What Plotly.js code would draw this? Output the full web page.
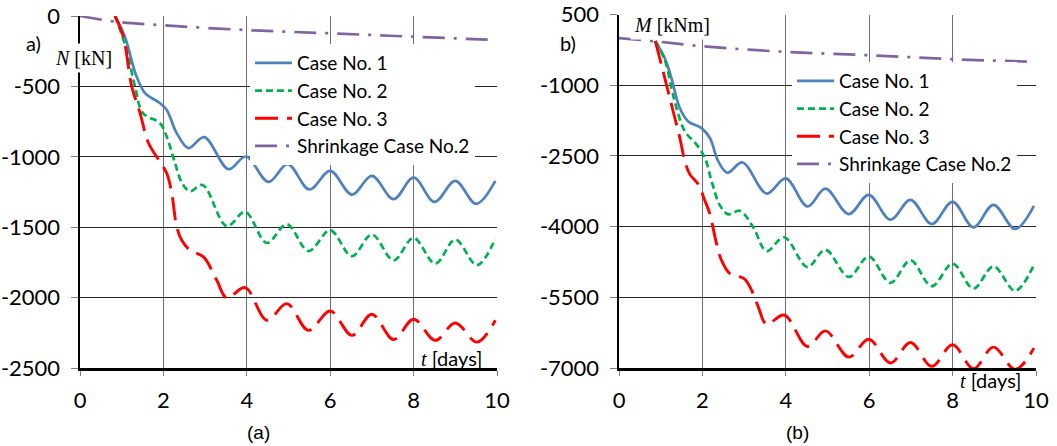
<!DOCTYPE html>
<html>
<head>
<meta charset="utf-8">
<script src="https://cdn.plot.ly/plotly-3.0.1.min.js"></script>
<style>
  html, body { margin: 0; padding: 0; background: #fff; }
  #chart { width: 1057px; height: 446px; }
</style>
</head>
<body>
<div id="chart"></div>
<script>
// ---- (a) axial force N [kN] versus time t [days] ----
const tN_case1 = [0.84, 1.08, 1.28, 1.36, 1.56, 1.92, 2.08, 2.32, 2.6, 2.98, 3.56, 3.98, 4.52, 4.98, 5.5, 6.0, 6.52, 7.0, 7.52, 8.0, 8.5, 9.0, 9.5, 9.96];
const N_case1  = [0, -150, -360, -431, -548, -620, -668, -832, -938, -860, -1088, -998, -1178, -1052, -1232, -1100, -1268, -1136, -1301, -1147, -1320, -1171, -1334, -1171];

const tN_case2 = [0.84, 1.12, 1.32, 1.51, 1.92, 2.08, 2.28, 2.45, 2.64, 2.94, 3.52, 3.96, 4.48, 4.96, 5.48, 6.0, 6.52, 7.0, 7.52, 8.0, 8.52, 9.0, 9.52, 9.96];
const N_case2  = [0, -242, -502, -690, -762, -858, -1046, -1188, -1245, -1200, -1493, -1391, -1612, -1479, -1669, -1522, -1706, -1552, -1735, -1576, -1759, -1588, -1770, -1581];

const tN_case3 = [0.84, 1.04, 1.24, 1.44, 1.64, 1.92, 2.08, 2.2, 2.32, 2.44, 2.64, 2.96, 3.28, 3.52, 3.96, 4.48, 4.96, 5.48, 6.0, 6.52, 7.0, 7.52, 8.0, 8.52, 9.0, 9.52, 9.96];
const N_case3  = [0, -150, -500, -690, -900, -1037, -1117, -1258, -1498, -1593, -1664, -1711, -1877, -2003, -1929, -2161, -2043, -2233, -2095, -2268, -2118, -2298, -2154, -2304, -2180, -2316, -2161];

const tN_shrink = [0, 0.84, 2, 4, 6, 8, 10];
const N_shrink  = [0, -40, -66, -100, -123, -147, -171];

// ---- (b) bending moment M [kNm] versus time t [days] ----
const tM_case1 = [0.87, 1.1, 1.26, 1.34, 1.46, 1.66, 1.98, 2.18, 2.38, 2.6, 2.96, 3.54, 4.0, 4.52, 4.95, 5.51, 5.99, 6.51, 6.99, 7.5, 8.0, 8.5, 8.98, 9.5, 9.95];
const M_case1  = [-62, -435, -857, -1137, -1489, -1769, -1910, -2121, -2612, -2858, -2640, -3299, -2976, -3573, -3194, -3734, -3327, -3854, -3432, -3945, -3474, -4015, -3538, -4050, -3559];

const tM_case2 = [0.87, 1.1, 1.26, 1.38, 1.58, 1.86, 2.06, 2.22, 2.42, 2.62, 2.9, 3.22, 3.54, 3.96, 4.52, 4.95, 5.51, 5.99, 6.51, 6.99, 7.5, 8.0, 8.5, 8.98, 9.5, 9.95];
const M_case2  = [-62, -469, -1067, -1489, -1980, -2260, -2542, -3033, -3550, -3740, -3665, -4017, -4521, -4226, -4858, -4493, -5068, -4633, -5195, -4717, -5265, -4788, -5314, -4844, -5363, -4809];

const tM_case3 = [0.87, 1.02, 1.18, 1.3, 1.46, 1.58, 1.7, 1.9, 2.06, 2.18, 2.34, 2.46, 2.66, 3.0, 3.18, 3.34, 3.54, 3.96, 4.52, 4.95, 5.51, 5.99, 6.51, 6.99, 7.5, 8.0, 8.5, 8.98, 9.5, 9.95];
const M_case3  = [-62, -575, -1137, -1558, -2121, -2612, -2892, -3103, -3450, -3735, -4367, -4719, -4999, -5105, -5351, -5703, -6070, -5876, -6543, -6213, -6768, -6389, -6894, -6459, -6964, -6508, -7015, -6557, -7030, -6578];

const tM_shrink = [0, 0.87, 2, 4, 6, 8, 10];
const M_shrink  = [0, -70, -174, -293, -364, -448, -504];

const seriesNames = ['Case No. 1', 'Case No. 2', 'Case No. 3', 'Shrinkage Case No.2'];
const xTicks = [0, 2, 4, 6, 8, 10];
const nTicks = [0, -500, -1000, -1500, -2000, -2500];
const mTicks = [500, -1000, -2500, -4000, -5500, -7000];

// ---- styling ----
const styles = [
  { color: '#4F81BD', width: 2.7, dash: 'solid' },
  { color: '#00B050', width: 2.7, dash: '7px,4px' },
  { color: '#FF0000', width: 2.9, dash: '23px,9px' },
  { color: '#8064A2', width: 2.7, dash: '22px,9px,3px,9px' }
];
const W = 1057, H = 446;
const px = v => v / W;
const py = v => 1 - v / H;
const SANS = 'Lato, "Open Sans", sans-serif';
const SERIF = '"Liberation Serif", "DejaVu Serif", serif';

function makeTrace(x, y, i, xa, ya, leg) {
  return {
    x: x, y: y, type: 'scatter', mode: 'lines',
    name: seriesNames[i], xaxis: xa, yaxis: ya, legend: leg,
    line: { color: styles[i].color, width: styles[i].width, dash: styles[i].dash, shape: 'spline', smoothing: 1 },
    hoverinfo: 'x+y'
  };
}

const traces = [
  makeTrace(tN_case1, N_case1, 0, 'x', 'y', 'legend'),
  makeTrace(tN_case2, N_case2, 1, 'x', 'y', 'legend'),
  makeTrace(tN_case3, N_case3, 2, 'x', 'y', 'legend'),
  makeTrace(tN_shrink, N_shrink, 3, 'x', 'y', 'legend'),
  makeTrace(tM_case1, M_case1, 0, 'x2', 'y2', 'legend2'),
  makeTrace(tM_case2, M_case2, 1, 'x2', 'y2', 'legend2'),
  makeTrace(tM_case3, M_case3, 2, 'x2', 'y2', 'legend2'),
  makeTrace(tM_shrink, M_shrink, 3, 'x2', 'y2', 'legend2')
];

function xAxis(domain, anchor) {
  return {
    domain: domain, anchor: anchor, range: [0, 10],
    tickvals: xTicks, ticktext: xTicks.map(String),
    showgrid: true, gridcolor: '#6f6f6f', gridwidth: 1,
    zeroline: false, showline: true, linecolor: '#000', linewidth: 2.5,
    ticks: 'outside', ticklen: 5, tickcolor: '#808080', tickwidth: 1,
    ticklabelstandoff: 6, ticklabeloverflow: 'allow',
    tickfont: { family: SANS, size: 22, color: '#000' }, fixedrange: true
  };
}
function yAxis(domain, anchor, range, ticks) {
  return {
    domain: domain, anchor: anchor, range: range,
    tickvals: ticks, ticktext: ticks.map(String),
    showgrid: true, gridcolor: '#262626', gridwidth: 1,
    zeroline: false, showline: true, linecolor: '#000', linewidth: 2.5,
    ticks: 'outside', ticklen: 7, tickcolor: '#808080', tickwidth: 1,
    ticklabelstandoff: 6, ticklabeloverflow: 'allow',
    tickfont: { family: SANS, size: 22, color: '#000' }, fixedrange: true
  };
}

function legendAt(x, y) {
  return {
    x: x, y: y, xanchor: 'left', yanchor: 'top',
    bgcolor: '#fff', borderwidth: 0, tracegroupgap: 0, itemwidth: 37,
    font: { family: SANS, size: 19, color: '#000' }
  };
}

function label(text, x, y, opts) {
  return Object.assign({
    text: text, xref: 'paper', yref: 'paper', x: px(x), y: py(y),
    xanchor: 'center', yanchor: 'middle', showarrow: false,
    font: { family: SANS, size: 20, color: '#000' }
  }, opts || {});
}

const tLabel = '<span style="font-family:' + "'Liberation Serif'" + '"><i>t</i></span> [days]';
const CAPTION = { family: '"Liberation Sans", Arial, sans-serif', size: 19, color: '#000' };

const layout = {
  width: W, height: H,
  margin: { l: 0, r: 0, t: 0, b: 0 },
  paper_bgcolor: '#fff', plot_bgcolor: '#fff',
  showlegend: true,
  xaxis: xAxis([px(80), px(497)], 'y'),
  yaxis: yAxis([1 - 368 / H, 1 - 16 / H], 'x', [-2500, 0], nTicks),
  xaxis2: xAxis([px(619), px(1036)], 'y2'),
  yaxis2: yAxis([1 - 368 / H, 1 - 14.5 / H], 'x2', [-7000, 500], mTicks),
  legend: legendAt(px(250), py(44)),
  legend2: legendAt(px(792), py(62)),
  annotations: [
    label('a)', 33, 43),
    label('<i>N</i> [kN]', 83, 58, { font: { family: SERIF, size: 20, color: '#000' }, bgcolor: '#fff', borderpad: 3 }),
    label(tLabel, 451, 358),
    label('(a)', 258, 432, { font: CAPTION }),
    label('b)', 568, 43),
    label('<i>M</i> [kNm]', 672, 25, { font: { family: SERIF, size: 20, color: '#000' }, bgcolor: '#fff', borderpad: 3 }),
    label(tLabel, 990, 380),
    label('(b)', 797, 432, { font: CAPTION })
  ]
};

Plotly.newPlot('chart', traces, layout, { displayModeBar: false, staticPlot: true });
</script>
</body>
</html>
